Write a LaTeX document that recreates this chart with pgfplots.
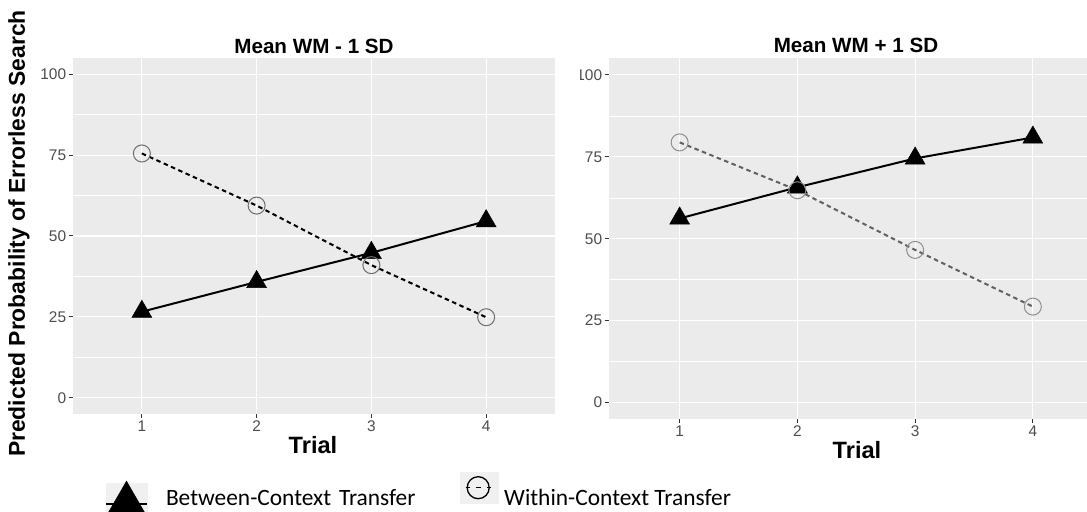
\documentclass[border=0pt]{standalone}
\usepackage{fontspec}
\setmainfont{Liberation Sans}
\newfontfamily\legfont{Carlito}
\usepackage{pgfplots}
\pgfplotsset{compat=1.18}
\definecolor{ggbg}{HTML}{EBEBEB}
\definecolor{ggtick}{HTML}{333333}
\definecolor{gglab}{HTML}{4D4D4D}
\definecolor{ptgray}{HTML}{6E6E6E}
\definecolor{ptgrayR}{HTML}{8E8E8E}
\definecolor{lngrayR}{HTML}{606060}
\definecolor{keybg}{HTML}{F0F0F0}

\pgfplotsset{ggpanel/.style={
  scale only axis, anchor=south west,
  xmin=0.4, ymin=-5, ymax=105,
  axis background/.style={fill=ggbg},
  axis line style={draw=none},
  xtick={1,2,3,4}, ytick={0,25,50,75,100},
  minor ytick={12.5,37.5,62.5,87.5},
  xmajorgrids, ymajorgrids, yminorgrids,
  major grid style={white, line width=1.1bp},
  minor grid style={white, line width=0.55bp},
  tick align=outside, tick pos=left,
  major tick length=3.7bp, minor tick length=0pt,
  tick style={ggtick, line width=1bp},
  /pgf/number format/assume math mode=true,
  tick label style={font=\fontsize{15.5}{15.5}\selectfont, text=gglab, inner sep=0pt},
  xticklabel style={yshift=-3bp},
  yticklabel style={xshift=-3bp},
}}

\pgfplotstableread{
x between within
1 26.6 75.5
2 35.8 59.4
3 44.8 41.0
4 54.6 24.9
}\lowWM
\pgfplotstableread{
x between within
1 56.2 79.4
2 65.7 64.8
3 74.5 46.6
4 80.9 29.3
}\highWM

\begin{document}
\begin{tikzpicture}
\begin{axis}[ggpanel, at={(73bp,98bp)}, width=482bp, height=356bp, xmax=4.6,
  legend columns=2,
  legend style={draw=none, fill=none, inner sep=0pt, outer sep=0pt,
    at={(axis description cs:0.0664,-0.1629)}, anchor=north west,
    cells={anchor=west},
    nodes={inner sep=0pt, text depth=0pt, text height=15.2bp,
      font=\legfont\fontsize{23.5}{27}\selectfont},
    /tikz/column sep=0pt},
]
\addplot[forget plot, black, line width=2bp] table[x=x, y=between] {\lowWM};
\addplot[forget plot, black, line width=2bp, dash pattern=on 4.5bp off 3.5bp] table[x=x, y=within] {\lowWM};
\addplot[forget plot, only marks, mark=triangle*, mark size=11.5bp,
  mark options={fill=black, draw=black, line width=0.5bp}] table[x=x, y=between] {\lowWM};
\addplot[forget plot, only marks, mark=o, mark size=8.5bp,
  mark options={draw=ptgray, line width=1bp}] table[x=x, y=within] {\lowWM};
\addlegendimage{legend image code/.code={
  \fill[keybg] (0bp,-26.5bp) rectangle (41bp,14.5bp);
  \draw[black, line width=2bp] (0bp,-6bp) -- (41bp,-6bp);
  \fill[black] (20.5bp,17.1bp) -- (0.5bp,-17.55bp) -- (40.5bp,-17.55bp) -- cycle;
  \path[draw=none, fill=none] (0bp,0bp) -- (60bp,0bp);
}}
\addlegendentry[text width=294bp]{Between-Context Transfer}
\addlegendimage{legend image code/.code={
  \fill[keybg] (0bp,-5bp) rectangle (38bp,26bp);
  \draw[black, line width=1.3bp] (18bp,10.5bp) circle[radius=11bp];
  \draw[black, line width=1.5bp] (5.5bp,10.5bp) -- (9.5bp,10.5bp) (15.5bp,10.5bp) -- (20.5bp,10.5bp) (26.5bp,10.5bp) -- (30.5bp,10.5bp);
  \path[draw=none, fill=none] (0bp,0bp) -- (44bp,0bp);
}}
\addlegendentry{Within-Context Transfer}
\end{axis}

\begin{axis}[ggpanel, at={(609bp,93bp)}, width=478bp, height=360.5bp, xmax=4.46]
\addplot[black, line width=2bp] table[x=x, y=between] {\highWM};
\addplot[lngrayR, line width=2bp, dash pattern=on 4.5bp off 3.5bp] table[x=x, y=within] {\highWM};
\addplot[only marks, mark=triangle*, mark size=11.5bp,
  mark options={fill=black, draw=black, line width=0.5bp}] table[x=x, y=between] {\highWM};
\addplot[only marks, mark=o, mark size=8.5bp,
  mark options={draw=ptgrayR, line width=1bp}] table[x=x, y=within] {\highWM};
\end{axis}

\fill[white] (556bp,426bp) rectangle (580bp,446bp);

\node[font=\bfseries\fontsize{20.7}{24}\selectfont] at (314bp,466bp) {Mean WM - 1 SD};
\node[font=\bfseries\fontsize{20.7}{24}\selectfont] at (856bp,466.5bp) {Mean WM + 1 SD};
\node[font=\bfseries\fontsize{23.7}{26}\selectfont] at (313bp,67bp) {Trial};
\node[font=\bfseries\fontsize{23.7}{26}\selectfont] at (857bp,62bp) {Trial};
\node[rotate=90, font=\bfseries\fontsize{23}{26}\selectfont] at (19bp,278.5bp) {Predicted Probability of Errorless Search};

\pgfresetboundingbox
\useasboundingbox (0bp,0bp) rectangle (1087bp,512bp);
\end{tikzpicture}
\end{document}
